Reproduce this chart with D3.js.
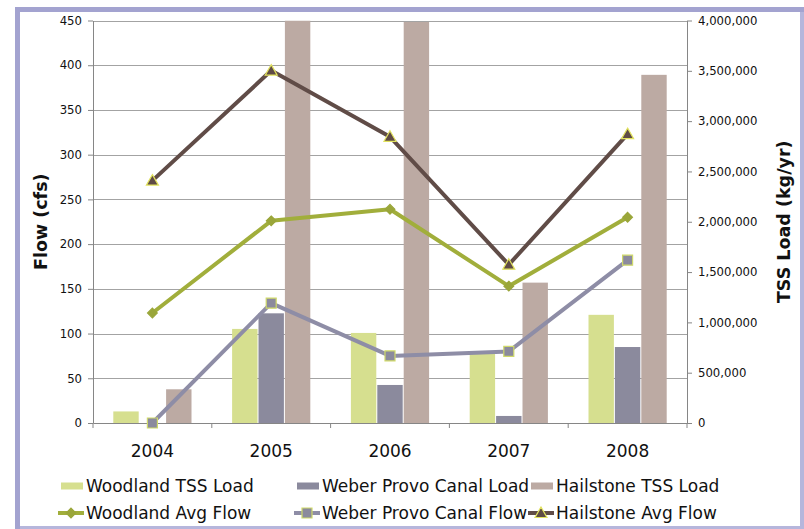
<!DOCTYPE html>
<html>
<head>
<meta charset="utf-8">
<script src="https://cdn.jsdelivr.net/npm/d3@7"></script>
<style>
  body { margin: 0; background: #fff; }
  svg { display: block; font-family: "DejaVu Sans", Verdana, sans-serif; }
</style>
</head>
<body>
<div id="chart"></div>
<script>
// data
const years = ["2004", "2005", "2006", "2007", "2008"];
const woodlandLoad = [115000, 935000, 895000, 700000, 1075000];
const weberLoad = [0, 1090000, 378000, 70000, 755000];
const hailstoneLoad = [335000, 4000000, 3985000, 1395000, 3460000];
const woodlandFlow = [123, 226, 239, 153, 230];
const weberFlow = [0, 134, 75, 80, 182];
const hailstoneFlow = [271, 394, 320, 177, 323];
const flowTicks = [0, 50, 100, 150, 200, 250, 300, 350, 400, 450];
const loadTicks = [0, 500000, 1000000, 1500000, 2000000, 2500000, 3000000, 3500000, 4000000];

const barSeries = [
  { name: "Woodland TSS Load", values: woodlandLoad, color: "#d6df8f" },
  { name: "Weber Provo Canal Load", values: weberLoad, color: "#8b8a9d" },
  { name: "Hailstone TSS Load", values: hailstoneLoad, color: "#bcaaa3" }
];
const lineSeries = [
  { name: "Woodland Avg Flow", values: woodlandFlow, color: "#a1ae3b", marker: "diamond", mFill: "#9aa63a", mStroke: "#9aa63a" },
  { name: "Weber Provo Canal Flow", values: weberFlow, color: "#8e8da6", marker: "square", mFill: "#8b8a9d", mStroke: "#cfd96a" },
  { name: "Hailstone Avg Flow", values: hailstoneFlow, color: "#604c47", marker: "triangle", mFill: "#5f4b45", mStroke: "#e2e35e" }
];

const W = 804, H = 529;
const plot = { left: 93, right: 687, top: 20.5, bottom: 423 };

const svg = d3.select("#chart").append("svg")
  .attr("width", W).attr("height", H);

// --- frame ---
svg.append("rect").attr("x", 15).attr("y", 7).attr("width", 789).attr("height", 522).attr("fill", "#b6b6dc");
svg.append("rect").attr("x", 20).attr("y", 12).attr("width", 780).attr("height", 514).attr("fill", "#fff");
svg.append("rect").attr("x", 15).attr("y", 7).attr("width", 5).attr("height", 522).attr("fill", "#a3a3d0");
svg.append("rect").attr("x", 15).attr("y", 7).attr("width", 789).attr("height", 5).attr("fill", "#a3a3d0");

// --- scales ---
const x = d3.scaleBand().domain(years).range([plot.left, plot.right]).paddingInner(0).paddingOuter(0);
const yFlow = d3.scaleLinear().domain([0, 450]).range([plot.bottom, plot.top]);
const yLoad = d3.scaleLinear().domain([0, 4000000]).range([plot.bottom, plot.top]);
const groupW = x.bandwidth() / 1.5;
const xs = d3.scaleBand().domain(d3.range(barSeries.length)).range([0, groupW]);

// --- gridlines ---
svg.append("g")
  .selectAll("line")
  .data(flowTicks.filter(d => d > 0))
  .join("line")
  .attr("x1", plot.left).attr("x2", plot.right)
  .attr("y1", d => Math.round(yFlow(d)) + 0.5).attr("y2", d => Math.round(yFlow(d)) + 0.5)
  .attr("stroke", "#a3a3a3").attr("stroke-width", 1);

// --- bars ---
svg.append("defs").append("clipPath").attr("id", "clip")
  .append("rect").attr("x", plot.left).attr("y", plot.top)
  .attr("width", plot.right - plot.left).attr("height", plot.bottom - plot.top);

const barG = svg.append("g").attr("clip-path", "url(#clip)");
barSeries.forEach((s, si) => {
  barG.append("g")
    .selectAll("rect")
    .data(s.values)
    .join("rect")
    .attr("x", (d, i) => x(years[i]) + (x.bandwidth() - groupW) / 2 + xs(si) + 0.5)
    .attr("width", xs.bandwidth() - 1)
    .attr("y", d => yLoad(d))
    .attr("height", d => plot.bottom - yLoad(d))
    .attr("fill", s.color);
});

// --- axes ---
const axisColor = "#868686";
const leftAxis = svg.append("g")
  .attr("transform", `translate(${plot.left},0)`)
  .call(d3.axisLeft(yFlow).tickValues(flowTicks).tickSize(5).tickPadding(6).tickSizeOuter(0));
const rightAxis = svg.append("g")
  .attr("transform", `translate(${plot.right},0)`)
  .call(d3.axisRight(yLoad).tickValues(loadTicks).tickSize(5).tickPadding(6).tickSizeOuter(0)
    .tickFormat(d3.format(",")));
const bottomAxis = svg.append("g")
  .attr("transform", `translate(0,${plot.bottom})`)
  .call(d3.axisBottom(x).tickSize(0).tickPadding(22).tickSizeOuter(0));

[leftAxis, rightAxis, bottomAxis].forEach(g => {
  g.select(".domain").attr("stroke", axisColor);
  g.selectAll(".tick line").attr("stroke", axisColor);
  g.selectAll("text").attr("fill", "#111").attr("font-family", "DejaVu Sans, Verdana, sans-serif");
});
leftAxis.selectAll("text").attr("font-size", 11.7);
rightAxis.selectAll("text").attr("font-size", 11.7);
bottomAxis.selectAll("text").attr("font-size", 17);

// category boundary ticks
svg.append("g")
  .selectAll("line")
  .data(years.concat(["end"]))
  .join("line")
  .attr("x1", (d, i) => plot.left + i * x.bandwidth())
  .attr("x2", (d, i) => plot.left + i * x.bandwidth())
  .attr("y1", plot.bottom).attr("y2", plot.bottom + 5)
  .attr("stroke", axisColor);

// axis titles
svg.append("text")
  .attr("transform", `translate(47,${(plot.top + plot.bottom) / 2}) rotate(-90)`)
  .attr("text-anchor", "middle")
  .attr("font-size", 17.5).attr("font-weight", "bold").attr("fill", "#111")
  .text("Flow (cfs)");
svg.append("text")
  .attr("transform", `translate(790,${(plot.top + plot.bottom) / 2}) rotate(-90)`)
  .attr("text-anchor", "middle")
  .attr("font-size", 17.5).attr("font-weight", "bold").attr("fill", "#111")
  .text("TSS Load (kg/yr)");

// --- lines + markers ---
const markerPath = {
  diamond: d3.symbol(d3.symbolDiamond2, 60)(),
  square: "M-5,-5H5V5H-5Z",
  triangle: "M0,-6L6,4.5H-6Z"
};
const cx = i => x(years[i]) + x.bandwidth() / 2;

lineSeries.forEach(s => {
  const line = d3.line().x((d, i) => cx(i)).y(d => yFlow(d));
  svg.append("path")
    .datum(s.values)
    .attr("d", line)
    .attr("fill", "none")
    .attr("stroke", s.color)
    .attr("stroke-width", 4)
    .attr("stroke-linejoin", "round");
});
lineSeries.forEach(s => {
  svg.append("g")
    .selectAll("path")
    .data(s.values)
    .join("path")
    .attr("transform", (d, i) => `translate(${cx(i)},${yFlow(d)})`)
    .attr("d", markerPath[s.marker])
    .attr("fill", s.mFill)
    .attr("stroke", s.mStroke)
    .attr("stroke-width", 1.2);
});

// --- legend ---
const legendCols = [61, 297, 531];
const legendRows = [486, 513];
const lg = svg.append("g").attr("font-size", 17).attr("fill", "#111");
barSeries.forEach((s, i) => {
  const g = lg.append("g").attr("transform", `translate(${legendCols[i]},${legendRows[0]})`);
  g.append("rect").attr("x", 0).attr("y", -3.5).attr("width", 22).attr("height", 7).attr("fill", s.color);
  g.append("text").attr("x", 25).attr("y", 0).attr("dy", "0.35em").text(s.name);
});
lineSeries.forEach((s, i) => {
  const g = lg.append("g").attr("transform", `translate(${legendCols[i]},${legendRows[1]})`);
  g.append("line").attr("x1", -3).attr("x2", 23).attr("y1", 0).attr("y2", 0)
    .attr("stroke", s.color).attr("stroke-width", 4);
  g.append("path").attr("transform", "translate(10,0)")
    .attr("d", markerPath[s.marker])
    .attr("fill", s.mFill).attr("stroke", s.mStroke).attr("stroke-width", 1.2);
  g.append("text").attr("x", 25).attr("y", 0).attr("dy", "0.35em").text(s.name);
});
</script>
</body>
</html>
